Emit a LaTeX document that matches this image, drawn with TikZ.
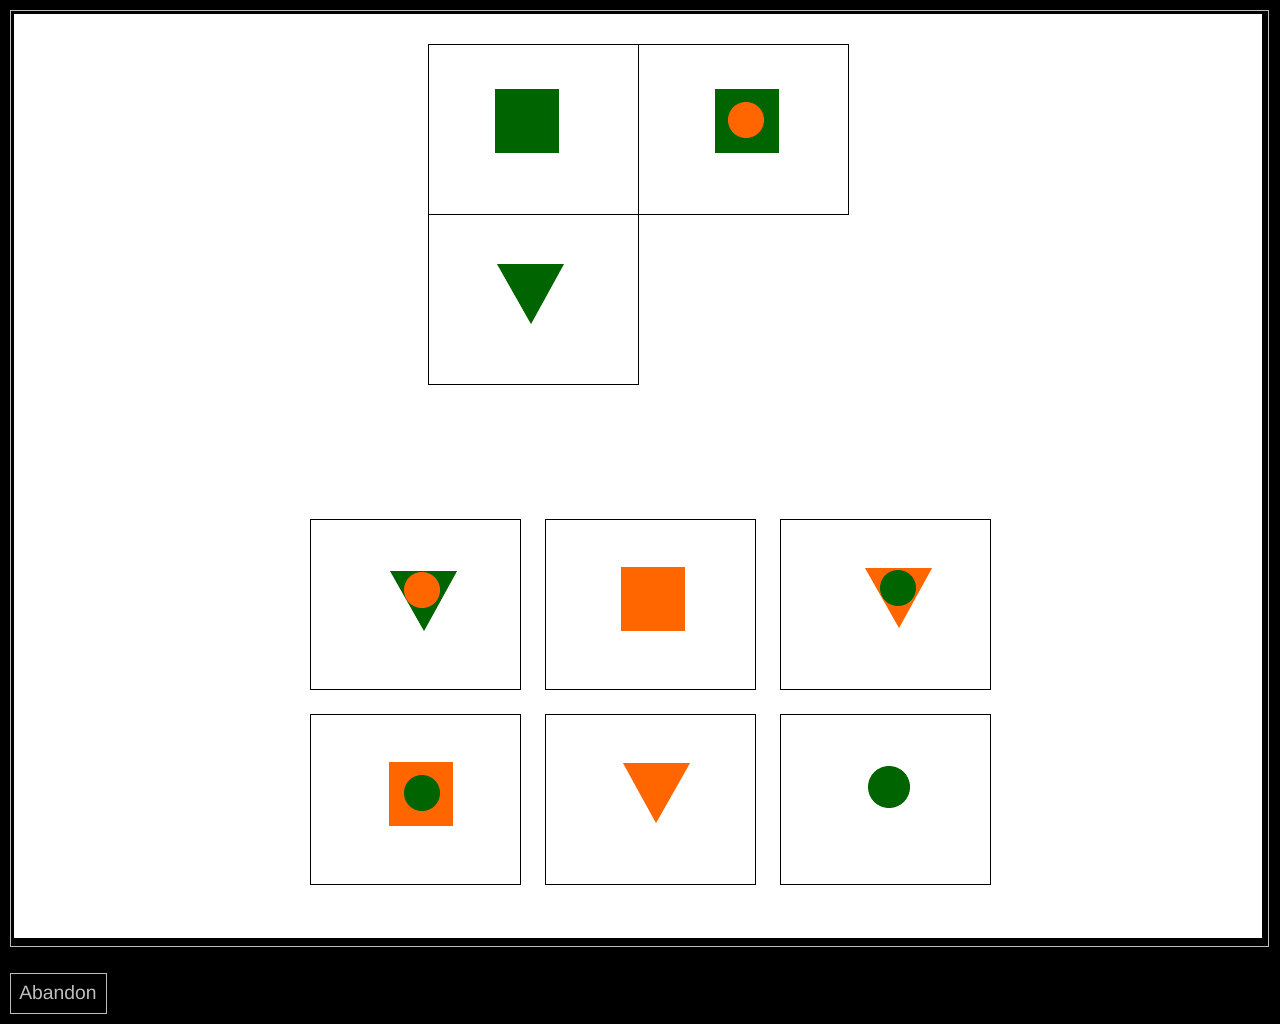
\documentclass[tikz,border=0pt]{standalone}
\usepackage{fontspec}
\setsansfont{Liberation Sans}
\definecolor{figgreen}{RGB}{0,100,0}
\definecolor{figorange}{RGB}{255,102,0}
\definecolor{btngray}{RGB}{190,190,190}

\begin{document}
\begin{tikzpicture}[x=0.02cm,y=-0.02cm,
  panel/.style={draw=black,line width=0.45pt,fill=white},
  sq/.style={fill=#1},
  dot/.style={fill=#1}]
  \useasboundingbox (0,0) rectangle (1280,1024);
  \fill[black] (0,0) rectangle (1280,1024);
  \draw[btngray,line width=0.6pt] (10.5,10.5) rectangle (1268.5,946.5);
  \fill[white] (14,14) rectangle (1262,938);
  % question panels
  \foreach \x/\y in {428/44,638/44,428/214}
    \draw[panel] (\x,\y) rectangle ++(210,170);
  \fill[sq=figgreen] (495,89) rectangle (559,153);
  \fill[sq=figgreen] (715,89) rectangle (779,153);
  \fill[dot=figorange] (746,120) circle (18);
  \fill[figgreen] (497,264) -- (564,264) -- (531,324) -- cycle;
  % answer panels
  \foreach \x in {310,545,780}
    \foreach \y in {519,714}
      \draw[panel] (\x,\y) rectangle ++(210,170);
  \fill[figgreen] (390,571) -- (457,571) -- (424,631) -- cycle;
  \fill[dot=figorange] (422,590) circle (18);
  \fill[sq=figorange] (621,567) rectangle (685,631);
  \fill[figorange] (865,568) -- (932,568) -- (899,628) -- cycle;
  \fill[dot=figgreen] (898,588) circle (18);
  \fill[sq=figorange] (389,762) rectangle (453,826);
  \fill[dot=figgreen] (422,793) circle (18);
  \fill[figorange] (623,763) -- (690,763) -- (656,823) -- cycle;
  \fill[dot=figgreen] (889,787) circle (21);
  % button
  \node[draw=btngray,line width=0.45pt,minimum width=96*0.02cm,minimum height=40*0.02cm,
    inner sep=0pt,text=btngray,font=\sffamily\fontsize{11pt}{13pt}\selectfont]
    (abandon) at (58,993) {Abandon};
\end{tikzpicture}
\end{document}
